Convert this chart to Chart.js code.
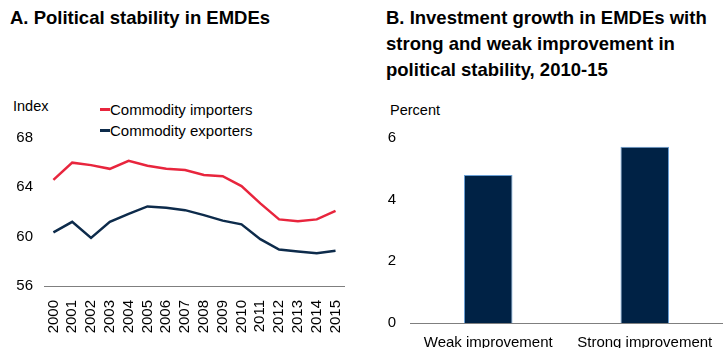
<!DOCTYPE html>
<html>
<head>
<meta charset="utf-8">
<script src="https://cdn.jsdelivr.net/npm/chart.js@4.4.0/dist/chart.umd.min.js"></script>
<style>
  html, body { margin: 0; padding: 0; background: #fff; }
  body { width: 723px; height: 348px; position: relative; overflow: hidden; font-family: "Liberation Sans", Arial, sans-serif; color: #000; }
  .title { position: absolute; font-weight: bold; font-size: 18.5px; line-height: 26px; }
  .unit { position: absolute; font-size: 14.5px; }
  .legend { position: absolute; left: 100px; top: 99px; font-size: 15px; line-height: 21px; }
  .legend .item { display: flex; align-items: center; white-space: nowrap; }
  .legend .swatch { width: 10px; height: 3px; display: inline-block; }
  .box { position: absolute; top: 0; height: 348px; }
</style>
</head>
<body>
<div class="title" style="left:10px; top:5px;">A. Political stability in EMDEs</div>
<div class="title" style="left:386px; top:5px;">B. Investment growth in EMDEs with<br>strong and weak improvement in<br>political stability, 2010-15</div>
<div class="unit" style="left:13px; top:98px;">Index</div>
<div class="unit" style="left:390px; top:102px;">Percent</div>
<div class="legend" id="legendA"></div>

<div class="box" style="left:0; width:360px;"><canvas id="chartA"></canvas></div>
<div class="box" style="left:363px; width:360px;"><canvas id="chartB"></canvas></div>

<script>
// --- Data ---
const years = ['2000','2001','2002','2003','2004','2005','2006','2007','2008','2009','2010','2011','2012','2013','2014','2015'];
const importers = [64.6, 66.0, 65.8, 65.5, 66.15, 65.75, 65.5, 65.4, 65.0, 64.9, 64.1, 62.7, 61.4, 61.25, 61.4, 62.1];
const exporters = [60.35, 61.2, 59.9, 61.2, 61.85, 62.45, 62.35, 62.15, 61.75, 61.3, 61.0, 59.8, 58.95, 58.8, 58.65, 58.85];
const indexTicks = [56, 60, 64, 68];

const groups = ['Weak improvement', 'Strong improvement'];
const growth = [4.8, 5.72];
const percentTicks = [0, 2, 4, 6];

const RED = '#e8253d';
const NAVY = '#0d2b4b';

Chart.defaults.font.family = "'Liberation Sans', Arial, sans-serif";
Chart.defaults.font.size = 15;
Chart.defaults.color = '#000';

// --- Panel A ---
const seriesA = [
  { label: 'Commodity importers', data: importers, color: RED },
  { label: 'Commodity exporters', data: exporters, color: NAVY }
];

new Chart(document.getElementById('chartA'), {
  type: 'line',
  data: {
    labels: years,
    datasets: seriesA.map(s => ({
      label: s.label,
      data: s.data,
      borderColor: s.color,
      borderWidth: 2.5,
      pointRadius: 0,
      tension: 0,
      fill: false
    }))
  },
  options: {
    responsive: true,
    maintainAspectRatio: false,
    animation: false,
    layout: { padding: { top: 138, right: 15, bottom: 0, left: 0 } },
    plugins: { legend: { display: false }, tooltip: { enabled: false } },
    scales: {
      x: {
        offset: true,
        grid: { display: false },
        border: { display: true, color: '#7f7f7f', width: 1 },
        ticks: { minRotation: 90, maxRotation: 90, padding: 6, autoSkip: false },
        afterFit: s => { s.height = 62; }
      },
      y: {
        min: 56, max: 68,
        grid: { display: false, drawTicks: false },
        border: { display: false },
        afterBuildTicks: s => { s.ticks = indexTicks.map(v => ({ value: v })); },
        ticks: { padding: 11 },
        afterFit: s => { s.width = 44; }
      }
    }
  }
});

// html legend built from the series
document.getElementById('legendA').innerHTML = seriesA.map(s =>
  `<div class="item"><span class="swatch" style="background:${s.color}"></span><span>${s.label}</span></div>`
).join('');

// --- Panel B ---
new Chart(document.getElementById('chartB'), {
  type: 'bar',
  data: {
    labels: groups,
    datasets: [{
      label: 'Investment growth',
      data: growth,
      backgroundColor: '#002245',
      borderColor: '#6a9fd4',
      borderWidth: 1,
      borderSkipped: 'bottom',
      categoryPercentage: 1,
      barPercentage: 0.31
    }]
  },
  options: {
    responsive: true,
    maintainAspectRatio: false,
    animation: false,
    layout: { padding: { top: 138, right: 0, bottom: 0, left: 0 } },
    plugins: { legend: { display: false }, tooltip: { enabled: false } },
    scales: {
      x: {
        grid: { display: false },
        border: { display: true, color: '#7f7f7f', width: 1 },
        ticks: { padding: 3, maxRotation: 0 },
        afterFit: s => { s.height = 25; }
      },
      y: {
        min: 0, max: 6,
        grid: { display: false, drawTicks: false },
        border: { display: false },
        afterBuildTicks: s => { s.ticks = percentTicks.map(v => ({ value: v })); },
        ticks: { padding: 14 },
        afterFit: s => { s.width = 47; }
      }
    }
  }
});
</script>
</body>
</html>
